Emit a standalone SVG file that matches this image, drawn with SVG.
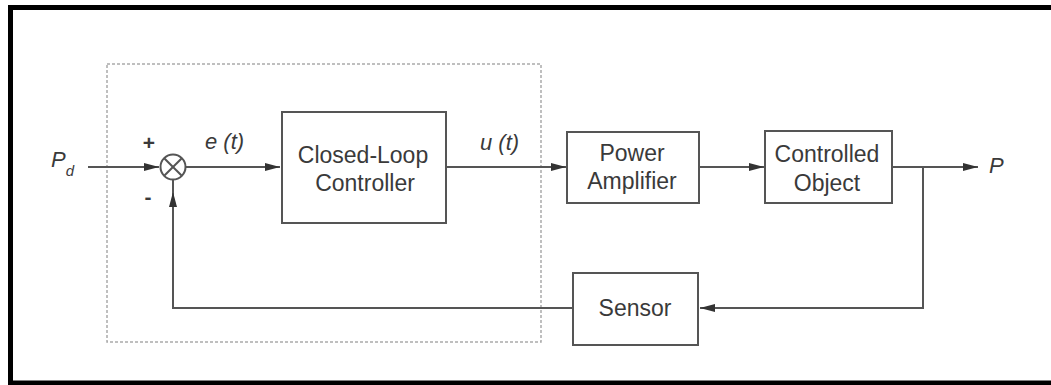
<svg xmlns="http://www.w3.org/2000/svg" width="1051" height="385" viewBox="0 0 1051 385">
  <defs>
    <marker id="arr" markerUnits="userSpaceOnUse" markerWidth="16" markerHeight="10" refX="15" refY="5" orient="auto">
      <path d="M0,1 L15,5 L0,9 Z" fill="#333"/>
    </marker>
  </defs>
  <style>
    .box { fill: #fff; stroke: #555; stroke-width: 2; }
    .lbl { font-family: "Liberation Sans", Arial, sans-serif; font-size: 23px; fill: #3a3a3a; text-anchor: middle; }
    .it { font-family: "Liberation Sans", Arial, sans-serif; font-style: italic; font-size: 22px; fill: #3a3a3a; }
    .wire { fill: none; stroke: #555; stroke-width: 2; }
    .sign { font-family: "Liberation Sans", Arial, sans-serif; font-size: 21px; font-weight: bold; fill: #3a3a3a; text-anchor: middle; }
  </style>
  <rect x="0" y="0" width="1051" height="385" fill="#fff"/>
  <rect id="frame" x="10.5" y="7.5" width="1050" height="375.5" fill="none" stroke="#000" stroke-width="5"/>

  <g id="controller-boundary">
    <rect x="107" y="64" width="434" height="278" fill="none" stroke="#aaa" stroke-width="1.5" stroke-dasharray="3 2"/>
  </g>

  <g id="connectors">
    <line class="wire" x1="88" y1="167" x2="159" y2="167" marker-end="url(#arr)"/>
    <line class="wire" x1="186" y1="167" x2="280" y2="167" marker-end="url(#arr)"/>
    <line class="wire" x1="446" y1="167" x2="566" y2="167" marker-end="url(#arr)"/>
    <line class="wire" x1="699" y1="167" x2="764" y2="167" marker-end="url(#arr)"/>
    <line class="wire" x1="892" y1="167" x2="978" y2="167" marker-end="url(#arr)"/>
    <polyline class="wire" points="923,167 923,308 700,308" marker-end="url(#arr)"/>
    <polyline class="wire" points="573,308 173,308 173,192" marker-end="url(#arr)"/>
    <line class="wire" x1="173" y1="193" x2="173" y2="180"/>
  </g>

  <g id="summing-junction">
    <circle cx="173" cy="167" r="12.5" fill="#fff" stroke="#555" stroke-width="2"/>
    <line x1="164.2" y1="158.2" x2="181.8" y2="175.8" stroke="#555" stroke-width="2"/>
    <line x1="181.8" y1="158.2" x2="164.2" y2="175.8" stroke="#555" stroke-width="2"/>
    <text class="sign" x="149" y="150">+</text>
    <text class="sign" x="148" y="204">-</text>
  </g>

  <g id="input-Pd">
    <text class="it" x="51" y="167">P<tspan font-size="15" dy="9">d</tspan></text>
  </g>

  <g id="label-e">
    <text class="it" x="205" y="149">e (t)</text>
  </g>

  <g id="closed-loop-controller">
    <rect class="box" x="282" y="112" width="164" height="111"/>
    <text class="lbl" x="363" y="163">Closed-Loop</text>
    <text class="lbl" x="365" y="191">Controller</text>
  </g>

  <g id="label-u">
    <text class="it" x="480" y="150">u (t)</text>
  </g>

  <g id="power-amplifier">
    <rect class="box" x="567" y="132" width="132" height="71"/>
    <text class="lbl" x="632" y="161">Power</text>
    <text class="lbl" x="632" y="189">Amplifier</text>
  </g>

  <g id="controlled-object">
    <rect class="box" x="765" y="131" width="127" height="72"/>
    <text class="lbl" x="827" y="162">Controlled</text>
    <text class="lbl" x="827" y="191">Object</text>
  </g>

  <g id="output-P">
    <text class="it" x="989" y="173">P</text>
  </g>

  <g id="sensor">
    <rect class="box" x="573" y="273" width="125" height="72"/>
    <text class="lbl" x="635" y="316">Sensor</text>
  </g>
</svg>
